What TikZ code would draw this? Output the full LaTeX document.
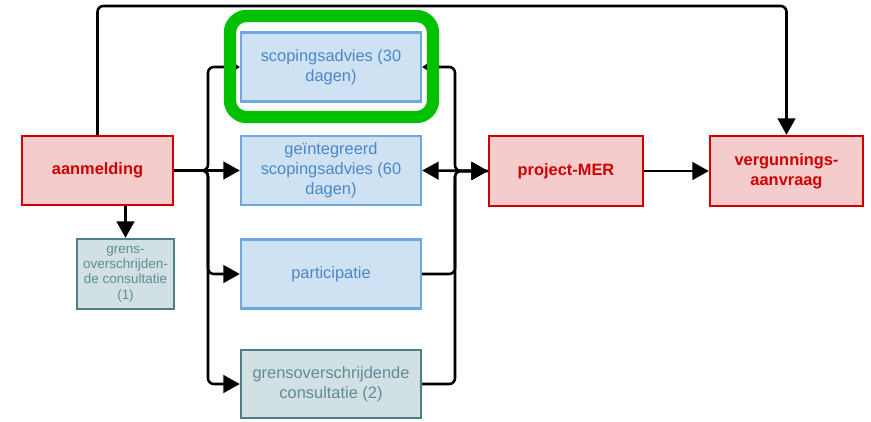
\documentclass[tikz,border=0pt]{standalone}
\usepackage{fontspec}
\setmainfont{Liberation Sans}
\usepackage{tikz}
\usetikzlibrary{arrows.meta}

\definecolor{redline}{HTML}{D00000}
\definecolor{redfill}{HTML}{F4CCCC}
\definecolor{blueline}{HTML}{6FA8DC}
\definecolor{bluefill}{HTML}{CFE2F3}
\definecolor{bluetext}{HTML}{4A86C8}
\definecolor{tealline}{HTML}{4E7F87}
\definecolor{tealfill}{HTML}{D0E0E3}
\definecolor{tealtext}{HTML}{5F8D96}
\definecolor{hilite}{HTML}{00C000}

\begin{document}
\begin{tikzpicture}[x=0.03cm, y=-0.03cm,
    box/.style={draw, line width=2pt, align=center, inner sep=2pt, font=\fontsize{14}{17}\selectfont},
    redbox/.style={box, draw=redline, fill=redfill, text=redline, font=\fontsize{14}{17}\selectfont\bfseries, minimum height=2.1cm},
    bluebox/.style={box, draw=blueline, fill=bluefill, text=bluetext, minimum width=5.4cm, minimum height=2.07cm},
    tealbox/.style={box, draw=tealline, fill=tealfill, text=tealtext},
    conn/.style={line width=2.2pt, rounded corners=5pt, -{Triangle[length=14pt,width=15pt]}},
    tinytip/.style={line width=2.2pt, rounded corners=5pt, -{Triangle[length=4pt,width=5pt]}},
    marker/.style={draw=hilite, line width=10.5pt, rounded corners=0.5cm, minimum width=6.09cm, minimum height=3.03cm}]
  \useasboundingbox (0,0) rectangle (871,421);

  \node[redbox, minimum width=4.53cm, minimum height=2.07cm] (aanm) at (97.5,170.5) {aanmelding};
  \node[tealbox, minimum width=2.91cm, minimum height=2.1cm, font=\fontsize{11.5}{13}\selectfont] (gc1) at (125.5,274) {grens-\\overschrijden-\\de consultatie\\(1)};
  \node[bluebox] (scop) at (331,67) {scopingsadvies (30\\dagen)};
  \node[bluebox] (geint) at (331,170.5) {geïntegreerd\\scopingsadvies (60\\dagen)};
  \node[bluebox] (part) at (331,274) {participatie};
  \node[tealbox, minimum width=5.4cm, minimum height=2.04cm] (gc2) at (331,384) {grensoverschrijdende\\consultatie (2)};
  \node[redbox, minimum width=4.62cm] (mer) at (566,171) {project-MER};
  \node[redbox, minimum width=4.59cm] (verg) at (786.5,171) {vergunnings-\\aanvraag};

  \coordinate (top) at (0,6);
  \coordinate (lbus) at (208,170.5);
  \coordinate (rbus) at (455,171);

  \draw[conn] (aanm.north) |- (verg.north |- top) -- (verg.north);
  \draw[conn] (gc1.north |- aanm.south) -- (gc1.north);
  \draw[conn] (aanm.east) -- (geint.west);
  \draw[tinytip] (aanm.east) -- (lbus) |- (scop.west);
  \draw[conn] (aanm.east) -- (lbus) |- (part.west);
  \draw[conn] (aanm.east) -- (lbus) |- (gc2.west);

  \draw[conn] (part.east) -| (rbus) -- (mer.west);
  \draw[conn] (gc2.east) -| (rbus) -- (mer.west);
  \draw[tinytip] (mer.west) -- (rbus) |- (scop.east);
  \draw[conn, {Triangle[length=14pt,width=15pt]}-{Triangle[length=14pt,width=15pt]}] (geint.east) -- (mer.west);
  \draw[conn] (mer.east) -- (verg.west);

  \node[marker] (mark) at (331.5,66.5) {};
\end{tikzpicture}
\end{document}
